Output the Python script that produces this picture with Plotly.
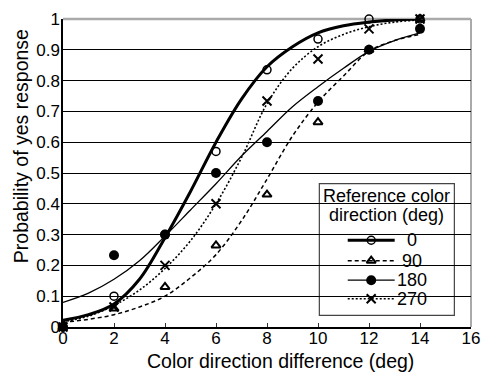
import plotly.graph_objects as go

# ---- data ----
x_pts = [0, 2, 4, 6, 8, 10, 12, 14]
p_0 = [0.0, 0.10, 0.30, 0.57, 0.835, 0.935, 1.0, 1.0]
p_90 = [0.0, 0.06, 0.13, 0.265, 0.43, 0.665, 0.90, 1.0]
p_180 = [0.0, 0.233, 0.30, 0.50, 0.60, 0.734, 0.90, 0.968]
p_270 = [0.0, 0.065, 0.20, 0.40, 0.734, 0.87, 0.968, 1.0]

x_fit = [0, 1, 2, 3, 4, 5, 6, 7, 8, 9, 10, 11, 12, 13, 14]
fit_0 = [0.022, 0.04, 0.075, 0.155, 0.29, 0.44, 0.60, 0.74, 0.845, 0.91, 0.955, 0.978, 0.99, 0.997, 1.0]
fit_90 = [0.015, 0.025, 0.04, 0.065, 0.10, 0.16, 0.235, 0.345, 0.48, 0.62, 0.73, 0.815, 0.895, 0.93, 0.95]
fit_180 = [0.08, 0.11, 0.155, 0.215, 0.295, 0.38, 0.465, 0.555, 0.635, 0.715, 0.78, 0.84, 0.895, 0.93, 0.955]
fit_270 = [0.017, 0.035, 0.07, 0.12, 0.19, 0.28, 0.40, 0.55, 0.725, 0.84, 0.91, 0.95, 0.975, 0.99, 0.997]

labels = ["0", "90", "180", "270"]
legend_title = ["Reference color", "direction (deg)"]
x_ticks = [0, 2, 4, 6, 8, 10, 12, 14, 16]
y_ticks = [0, 0.1, 0.2, 0.3, 0.4, 0.5, 0.6, 0.7, 0.8, 0.9, 1]
y_ticktext = ["0", "0.1", "0.2", "0.3", "0.4", "0.5", "0.6", "0.7", "0.8", "0.9", "1"]

FONT = "Liberation Sans, Arial, Helvetica, sans-serif"

styles = {
    "0": dict(line=dict(color="black", width=3, dash="solid"),
              marker=dict(symbol="circle-open", size=8, color="black", line=dict(width=1.5, color="black"))),
    "90": dict(line=dict(color="black", width=1.5, dash="4px,3px"),
               marker=dict(symbol="triangle-up-open", size=8, color="black", line=dict(width=2, color="black"))),
    "180": dict(line=dict(color="black", width=1.3, dash="solid"),
                marker=dict(symbol="circle", size=10, color="black", line=dict(width=0, color="black"))),
    "270": dict(line=dict(color="black", width=1.6, dash="2px,2px"),
                marker=dict(symbol="x-thin-open", size=9, color="black", line=dict(width=2, color="black"))),
}

fig = go.Figure()

fits = {"0": fit_0, "90": fit_90, "180": fit_180, "270": fit_270}
pts = {"0": p_0, "90": p_90, "180": p_180, "270": p_270}

# fitted curves
for lab in labels:
    fig.add_trace(go.Scatter(x=x_fit, y=fits[lab], mode="lines", line_shape="spline",
                             line=styles[lab]["line"], showlegend=False, hoverinfo="skip"))

# data markers (filled circles on top)
for lab in ["0", "90", "270", "180"]:
    fig.add_trace(go.Scatter(x=x_pts, y=pts[lab], mode="markers",
                             marker=styles[lab]["marker"], showlegend=False, cliponaxis=False))

# ---- hand-built legend on a pixel-scaled overlay axis (origin = plot top-left) ----
PW, PH = 417, 316
box = dict(x0=262, x1=400, y0=169, y1=304)
title_x, title_y = 331, [182, 201]
row_y = [227, 248, 268, 287]
sample_x0, sample_x1 = 291, 339
label_x = 357

for lab, ry in zip(labels, row_y):
    st = styles[lab]
    fig.add_trace(go.Scatter(x=[sample_x0, sample_x1], y=[ry, ry], mode="lines",
                             line=st["line"], xaxis="x2", yaxis="y2",
                             showlegend=False, hoverinfo="skip"))
    fig.add_trace(go.Scatter(x=[(sample_x0 + sample_x1) / 2], y=[ry], mode="markers",
                             marker=st["marker"], xaxis="x2", yaxis="y2",
                             showlegend=False, hoverinfo="skip"))

annotations = [
    dict(text="Color direction difference (deg)", xref="paper", yref="paper",
         x=0.532, y=-0.111, xanchor="center", yanchor="middle", showarrow=False,
         font=dict(family=FONT, size=19.5)),
    dict(text="Probability of yes response", xref="paper", yref="paper",
         x=-0.103, y=0.587, xanchor="center", yanchor="middle", showarrow=False,
         textangle=-90, font=dict(family=FONT, size=19.5)),
]
for t, ty in zip(legend_title, title_y):
    annotations.append(dict(text=t, xref="x2", yref="y2", x=title_x, y=ty,
                            xanchor="center", yanchor="middle", showarrow=False,
                            font=dict(family=FONT, size=18)))
for lab, ry in zip(labels, row_y):
    annotations.append(dict(text=lab, xref="x2", yref="y2", x=label_x, y=ry,
                            xanchor="center", yanchor="middle", showarrow=False,
                            font=dict(family=FONT, size=18)))

fig.update_layout(
    width=490, height=378,
    margin=dict(l=63, r=10, t=11, b=51),
    paper_bgcolor="white", plot_bgcolor="white",
    font=dict(family=FONT, size=17, color="black"),
    showlegend=False,
    xaxis=dict(
        range=[0, 16], tickvals=x_ticks, ticktext=[str(v) for v in x_ticks],
        showgrid=False, zeroline=False,
        showline=True, linecolor="black", linewidth=1.5,
        ticks="inside", ticklen=4, tickwidth=1, tickcolor="#333333",
        tickfont=dict(size=17), ticklabelstandoff=-5,
    ),
    yaxis=dict(
        range=[0, 1], tickvals=y_ticks, ticktext=y_ticktext,
        showgrid=True, gridcolor="black", gridwidth=1,
        zeroline=False,
        showline=True, linecolor="black", linewidth=1.5,
        ticks="", tickfont=dict(size=17), ticklabelstandoff=-2,
    ),
    xaxis2=dict(overlaying="x", anchor="y2", range=[0, PW], visible=False, fixedrange=True),
    yaxis2=dict(overlaying="y", anchor="x2", range=[PH, 0], visible=False, fixedrange=True),
    annotations=annotations,
    shapes=[
        dict(type="line", xref="paper", yref="paper", x0=0, x1=1, y0=1, y1=1,
             line=dict(color="#aaaaaa", width=2.5), layer="between"),
        dict(type="line", xref="paper", yref="paper", x0=1, x1=1, y0=0, y1=1,
             line=dict(color="#aaaaaa", width=2), layer="between"),
        dict(type="rect", xref="paper", yref="paper",
             x0=box["x0"] / PW, x1=box["x1"] / PW,
             y0=1 - box["y1"] / PH, y1=1 - box["y0"] / PH, fillcolor="white",
             line=dict(color="#444444", width=1.2), layer="between"),
    ],
)

fig.write_html("out.html")
